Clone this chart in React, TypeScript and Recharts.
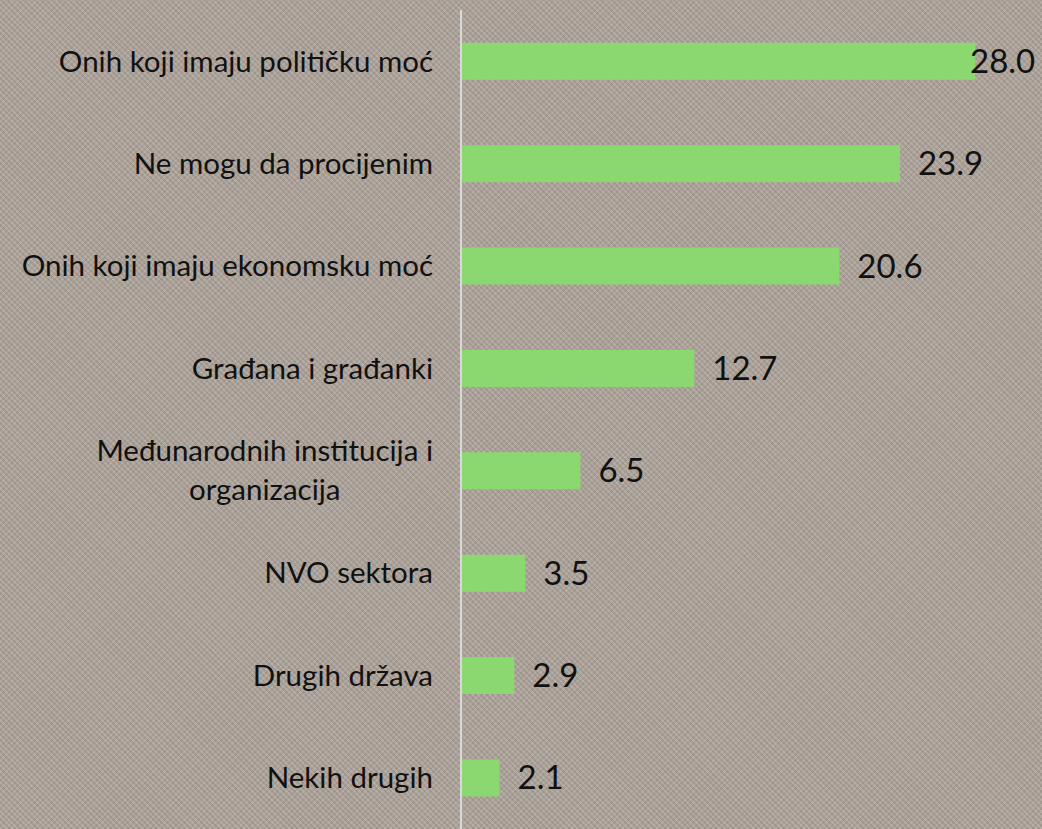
import { BarChart, Bar, XAxis, YAxis, LabelList } from 'recharts';

const categories = [
  'Onih koji imaju političku moć',
  'Ne mogu da procijenim',
  'Onih koji imaju ekonomsku moć',
  'Građana i građanki',
  'Međunarodnih institucija i organizacija',
  'NVO sektora',
  'Drugih država',
  'Nekih drugih',
];
const values = [28.0, 23.9, 20.6, 12.7, 6.5, 3.5, 2.9, 2.1];

const data = categories.map((name, i) => ({ name, value: values[i] }));

const FONT = 'Lato, "Open Sans", sans-serif';
const LABEL_SIZE = 29.5;

// two-line labels, centred on each other like the original
const WRAPS: Record<string, string[]> = {
  'Međunarodnih institucija i organizacija': ['Međunarodnih institucija i', 'organizacija'],
};

function measure(text: string) {
  const c = document.createElement('canvas').getContext('2d');
  if (!c) return text.length * LABEL_SIZE * 0.5;
  c.font = `${LABEL_SIZE}px ${FONT}`;
  return c.measureText(text).width;
}

function CategoryTick({ x, y, payload }: any) {
  const lines = WRAPS[payload.value];
  if (!lines) {
    return (
      <text x={x} y={y} dy="0.35em" textAnchor="end" fontSize={LABEL_SIZE} fontFamily={FONT} fill="#111">
        {payload.value}
      </text>
    );
  }
  const w = measure(lines[0]);
  const cx = x - w / 2;
  return (
    <text textAnchor="middle" fontSize={LABEL_SIZE} fontFamily={FONT} fill="#111">
      <tspan x={cx} y={y - 10}>{lines[0]}</tspan>
      <tspan x={cx} y={y + 29}>{lines[1]}</tspan>
    </text>
  );
}

function ValueLabel({ x, y, width, height, value }: any) {
  const lx = Math.min(x + width + 18, 970);
  return (
    <text x={lx} y={y + height / 2} dy="0.35em" fontSize={33} fontFamily={FONT} fill="#111">
      {Number(value).toFixed(1)}
    </text>
  );
}

export default function App() {
  document.body.style.margin = '0';
  return (
    <div
      style={{
        width: 1042,
        height: 829,
        backgroundColor: '#ada39a',
        backgroundImage:
          'repeating-linear-gradient(45deg, rgba(255,255,255,0.07) 0 2px, rgba(0,0,0,0.05) 2px 4px), repeating-linear-gradient(-45deg, rgba(255,255,255,0.05) 0 2px, rgba(0,0,0,0.04) 2px 4px)',
      }}
    >
      <BarChart
        width={1042}
        height={829}
        data={data}
        layout="vertical"
        margin={{ top: 10, right: 30, bottom: 0, left: 0 }}
        barCategoryGap="32%"
      >
        <XAxis type="number" domain={[0, 30]} hide />
        <YAxis
          type="category"
          dataKey="name"
          width={461}
          axisLine={{ stroke: '#d9d9d9', strokeWidth: 2 }}
          tickLine={false}
          tick={<CategoryTick />}
          tickMargin={22}
          interval={0}
        />
        <Bar dataKey="value" fill="#8cd870" isAnimationActive={false}>
          <LabelList dataKey="value" content={<ValueLabel />} />
        </Bar>
      </BarChart>
    </div>
  );
}
